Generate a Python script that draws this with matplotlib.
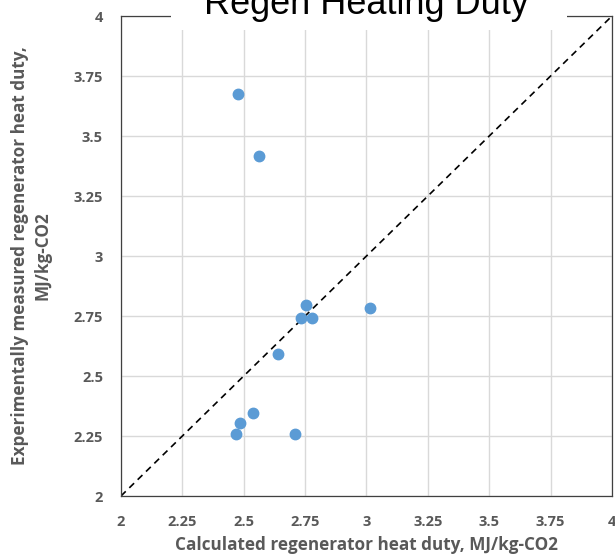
import matplotlib.pyplot as plt
from matplotlib.patches import Rectangle

# data
calc_duty = [2.477, 2.562, 2.754, 2.734, 2.778, 2.641, 2.539, 2.483, 2.468, 2.710, 3.014]
meas_duty = [3.675, 3.417, 2.796, 2.743, 2.743, 2.592, 2.347, 2.305, 2.257, 2.258, 2.783]
ticks = [2, 2.25, 2.5, 2.75, 3, 3.25, 3.5, 3.75, 4]
tick_labels = ["2", "2.25", "2.5", "2.75", "3", "3.25", "3.5", "3.75", "4"]

gray = "#595959"
font = "Open Sans"

fig = plt.figure(figsize=(6.15, 5.56), dpi=100)
ax = fig.add_axes([0.1967, 0.1079, 0.7984, 0.8633])

ax.plot([2, 4], [2, 4], color="black", linestyle=(0, (4, 3)), linewidth=1.2, zorder=2)
ax.plot(calc_duty, meas_duty, "o", color="#5B9BD5", markersize=7.5, zorder=3)

ax.set_xlim(2, 4)
ax.set_ylim(2, 4)
ax.set_xticks(ticks)
ax.set_yticks(ticks)
ax.set_xticklabels(tick_labels, fontweight="bold", family=font)
ax.set_yticklabels(tick_labels, fontweight="bold", family=font)
ax.tick_params(length=0, labelsize=10.5, labelcolor=gray)
ax.tick_params(axis="x", pad=14)
ax.tick_params(axis="y", pad=13)
ax.grid(True, color="#D9D9D9", linewidth=1)
ax.set_axisbelow(True)
for sp in ax.spines.values():
    sp.set_color("#404040")
    sp.set_linewidth(0.9)

ax.set_xlabel("Calculated regenerator heat duty, MJ/kg-CO2", fontsize=12.3,
              fontweight="bold", color=gray, family=font, labelpad=5)
ax.set_ylabel("Experimentally measured regenerator heat duty,\nMJ/kg-CO2", fontsize=12.3,
              fontweight="bold", color=gray, family=font, labelpad=16, linespacing=1.3)

# white box behind the title, covering the top of the plot
ax.add_patch(Rectangle((0.102, 0.971), 0.806, 0.2, transform=ax.transAxes,
                       facecolor="white", edgecolor="none", zorder=4, clip_on=False))
ax.text(0.5, 1.004, "Regen Heating Duty", transform=ax.transAxes, ha="center",
        va="baseline", fontsize=26, family="Liberation Sans", color="black",
        zorder=5, clip_on=False)

fig.savefig("out.png", dpi=100)
